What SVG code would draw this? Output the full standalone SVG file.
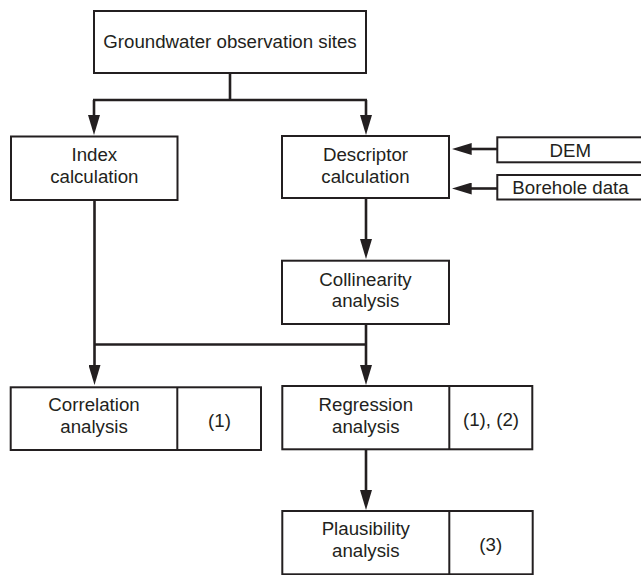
<svg xmlns="http://www.w3.org/2000/svg" width="641" height="575" viewBox="0 0 641 575">
<style>
.box{fill:#fff;stroke:#231f20;stroke-width:2}
.div{stroke:#231f20;stroke-width:2}
.t{font-family:"Liberation Sans",Arial,sans-serif;font-size:18.7px;fill:#231f20;text-anchor:middle}
.c{fill:none;stroke:#231f20;stroke-width:2.6}
</style>
<defs>
<marker id="ah" markerUnits="userSpaceOnUse" markerWidth="20" markerHeight="12" refX="2" refY="6" orient="auto">
<path d="M0,0 L20,6 L0,12 z" fill="#231f20"/>
</marker>
</defs>
<rect width="641" height="575" fill="#fff"/>
<g id="connectors">
<path class="c" d="M230,73 V100"/>
<path class="c" d="M93,100 H367"/>
<path class="c" d="M94,100 V117" marker-end="url(#ah)"/>
<path class="c" d="M366,100 V117" marker-end="url(#ah)"/>
<path class="c" d="M497,149 H469.7" marker-end="url(#ah)"/>
<path class="c" d="M497,188.5 H469.7" marker-end="url(#ah)"/>
<path class="c" d="M366,198 V241" marker-end="url(#ah)"/>
<path class="c" d="M94.5,200 V367" marker-end="url(#ah)"/>
<path class="c" d="M366,324 V367" marker-end="url(#ah)"/>
<path class="c" d="M94.5,344.5 H366"/>
<path class="c" d="M366,449 V492" marker-end="url(#ah)"/>
</g>
<g id="groundwater">
<rect class="box" x="94" y="11" width="272" height="62"/>
<text class="t" x="230" y="48">Groundwater observation sites</text>
</g>
<g id="index">
<rect class="box" x="11" y="136.5" width="166.5" height="63.5"/>
<text class="t" x="94.3" y="161">Index</text>
<text class="t" x="94.3" y="183.3">calculation</text>
</g>
<g id="descriptor">
<rect class="box" x="282" y="136" width="167" height="62"/>
<text class="t" x="365.5" y="160.7">Descriptor</text>
<text class="t" x="365.5" y="182.7">calculation</text>
</g>
<g id="dem">
<rect class="box" x="497.3" y="137.3" width="150" height="25"/>
<text class="t" x="570.3" y="156.7">DEM</text>
</g>
<g id="borehole">
<rect class="box" x="497.3" y="175" width="150" height="24.5"/>
<text class="t" x="570.5" y="194.3">Borehole data</text>
</g>
<g id="collinearity">
<rect class="box" x="282" y="260.7" width="167" height="63.3"/>
<text class="t" x="365.5" y="286">Collinearity</text>
<text class="t" x="365.5" y="307">analysis</text>
</g>
<g id="correlation">
<rect class="box" x="10.7" y="387.3" width="250.3" height="62.7"/>
<line class="div" x1="177.3" y1="387.3" x2="177.3" y2="450"/>
<text class="t" x="94" y="411">Correlation</text>
<text class="t" x="94" y="432.7">analysis</text>
<text class="t" x="219.5" y="426.7">(1)</text>
</g>
<g id="regression">
<rect class="box" x="282.3" y="386" width="250" height="63.3"/>
<line class="div" x1="449.3" y1="386" x2="449.3" y2="449.3"/>
<text class="t" x="365.8" y="410.7">Regression</text>
<text class="t" x="365.8" y="432.7">analysis</text>
<text class="t" x="491" y="426">(1), (2)</text>
</g>
<g id="plausibility">
<rect class="box" x="282.3" y="511" width="250.4" height="63.3"/>
<line class="div" x1="449.3" y1="511" x2="449.3" y2="574.3"/>
<text class="t" x="365.8" y="535">Plausibility</text>
<text class="t" x="365.8" y="557.3">analysis</text>
<text class="t" x="490.7" y="551">(3)</text>
</g>
</svg>
